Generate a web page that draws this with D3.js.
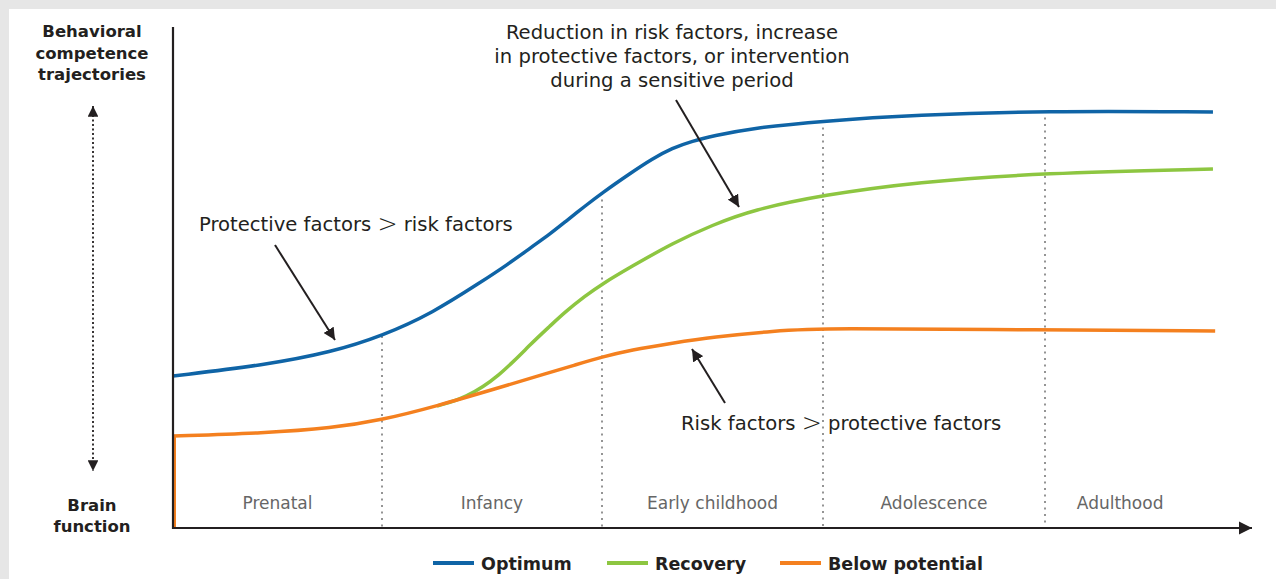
<!DOCTYPE html>
<html>
<head>
<meta charset="utf-8">
<script src="https://cdn.jsdelivr.net/npm/d3@7"></script>
<style>
    html, body { margin: 0; padding: 0; background: #e6e6e6; }
    svg { display: block; font-family: "DejaVu Sans", sans-serif; }
</style>
</head>
<body>
<svg id="chart" width="1276" height="579"></svg>
<script>
"use strict";

// developmental periods, one per unit of the x domain
var stages = ['Prenatal', 'Infancy', 'Early childhood', 'Adolescence', 'Adulthood'];
var stageLabelAt = [0.5, 1.5, 2.5, 3.5, 4.34];
var stageBreaks = [1, 2, 3, 4];

// [period, level 0-100]
var optimum = [
    [0, 30.4], [0.44, 32.6], [0.76, 35.2], [1, 38.4], [1.23, 43], [1.45, 49.2],
    [1.568, 52.6], [1.68, 56.2], [1.764, 58.8], [1.832, 61.2], [1.923, 64.4], [2, 67],
    [2.13, 71], [2.226, 73.8], [2.318, 76], [2.41, 77.4], [2.5, 78.4], [2.68, 80],
    [3, 81.4], [3.42, 82.6], [3.99, 83.4], [4.76, 83.2]
];
var recovery = [
    [1.25, 24.4], [1.38, 26], [1.53, 30.2], [1.68, 37], [1.764, 40.4], [1.832, 43.2],
    [1.923, 46.4], [2, 48.8], [2.13, 52.2], [2.32, 57], [2.5, 60.6], [2.68, 63.6],
    [3, 66.6], [3.42, 69.2], [3.99, 71], [4.76, 71.8]
];
var belowPotential = [
    [0, 18.4], [0.44, 19], [0.76, 20], [1, 21.6], [1.25, 24.4], [1.527, 28],
    [1.755, 31], [1.877, 32.6], [2, 34.2], [2.13, 35.6], [2.32, 37], [2.5, 38.2],
    [2.78, 39.4], [3, 40], [3.99, 39.6], [4.77, 39.4]
];
var belowStart = [[0, 0], [0, 18.4]];

var legendItems = ['Optimum', 'Recovery', 'Below potential'];
var colors = {'Optimum': '#0f64a6', 'Recovery': '#8dc641', 'Below potential': '#f4801f'};

var svg = d3.select('#chart');
var ink = '#231f20';

svg.append('rect').attr('x', 9).attr('y', 9).attr('width', 1267).attr('height', 570).attr('fill', '#fff');

var x = d3.scaleLinear().domain([0, 1, 2, 3, 4, 5]).range([173, 382, 602, 823, 1045, 1266]);
var y = d3.scaleLinear().domain([0, 100]).range([528, 28]);

var defs = svg.append('defs');
defs.append('marker')
        .attr('id', 'head')
        .attr('viewBox', '0 0 10 10')
        .attr('refX', 10).attr('refY', 5)
        .attr('markerWidth', 6).attr('markerHeight', 6)
        .attr('markerUnits', 'strokeWidth')
        .attr('orient', 'auto-start-reverse')
    .append('path')
        .attr('d', 'M0,0 L10,5 L0,10 z')
        .attr('fill', ink);

// stage separators, from the optimum curve down to the axis
function levelAt(series, t) {
    var i = d3.bisector(function(d) { return d[0]; }).left(series, t);
    var a = series[Math.max(0, i - 1)], b = series[Math.min(series.length - 1, i)];
    if (a[0] === b[0]) { return a[1]; }
    return a[1] + (b[1] - a[1]) * (t - a[0]) / (b[0] - a[0]);
}

svg.append('g').selectAll('line')
    .data(stageBreaks)
    .join('line')
        .attr('x1', function(d) { return x(d); })
        .attr('x2', function(d) { return x(d); })
        .attr('y1', function(d) { return y(levelAt(optimum, d)); })
        .attr('y2', y(0))
        .attr('stroke', '#7a7a7a')
        .attr('stroke-width', 1.6)
        .attr('stroke-dasharray', '2,4.5');

svg.append('g').selectAll('text')
    .data(stages)
    .join('text')
        .attr('x', function(d, i) { return x(stageLabelAt[i]); })
        .attr('y', 509)
        .attr('text-anchor', 'middle')
        .attr('fill', '#666')
        .attr('font-size', 17)
        .text(function(d) { return d; });

// curves
var line = d3.line()
    .x(function(d) { return x(d[0]); })
    .y(function(d) { return y(d[1]); })
    .curve(d3.curveBasis);

var curves = svg.append('g').attr('fill', 'none').attr('stroke-width', 3.5).attr('stroke-linecap', 'butt');
curves.append('path').attr('d', line(recovery)).attr('stroke', colors['Recovery']);
curves.append('path').attr('d', line(belowPotential)).attr('stroke', colors['Below potential']);
curves.append('path').attr('d', line(optimum)).attr('stroke', colors['Optimum']);
curves.append('path')
    .attr('d', d3.line().x(function(d) { return x(d[0]) + 1.5; }).y(function(d) { return y(d[1]); })(belowStart))
    .attr('stroke', colors['Below potential'])
    .attr('stroke-width', 3);

// axes
svg.append('line')
    .attr('x1', x(0)).attr('x2', x(0))
    .attr('y1', 27).attr('y2', y(0) + 1)
    .attr('stroke', ink).attr('stroke-width', 2.2);
svg.append('line')
    .attr('x1', x(0) - 1).attr('x2', 1252)
    .attr('y1', y(0)).attr('y2', y(0))
    .attr('stroke', ink).attr('stroke-width', 2.2)
    .attr('marker-end', 'url(#head)');

// vertical scale hint
svg.append('line')
    .attr('x1', 93).attr('x2', 93)
    .attr('y1', 106).attr('y2', 471)
    .attr('stroke', ink).attr('stroke-width', 1.8)
    .attr('stroke-dasharray', '2,2.5')
    .attr('marker-start', 'url(#head)')
    .attr('marker-end', 'url(#head)');

function label(lines, cx, y0, dy, size, weight, anchor) {
    var t = svg.append('text')
        .attr('text-anchor', anchor || 'middle')
        .attr('font-size', size)
        .attr('font-weight', weight)
        .attr('fill', ink);
    lines.forEach(function(s, i) {
        t.append('tspan').attr('x', cx).attr('y', y0 + i * dy).text(s);
    });
    return t;
}

label(['Behavioral', 'competence', 'trajectories'], 92, 37, 21.5, 16.5, 700);
label(['Brain', 'function'], 92, 511, 20.5, 16.5, 700);

label(['Reduction in risk factors, increase', 'in protective factors, or intervention', 'during a sensitive period'],
      672, 39, 24, 19.6, 400);

function factors(a, b, tx, ty) {
    var t = svg.append('text')
        .attr('x', tx).attr('y', ty)
        .attr('font-size', 19.6)
        .attr('fill', ink);
    t.append('tspan').text(a + ' ');
    t.append('tspan').attr('font-size', 24).attr('font-weight', 300).attr('dy', 1).text('>');
    t.append('tspan').attr('dy', -1).text(' ' + b);
}
factors('Protective factors', 'risk factors', 199, 231);
factors('Risk factors', 'protective factors', 681, 430);

// annotation arrows
var pointers = [
    [[275, 245], [335, 340]],
    [[676, 100], [739, 207]],
    [[725, 403], [692, 349]]
];
svg.append('g').selectAll('line')
    .data(pointers)
    .join('line')
        .attr('x1', function(d) { return d[0][0]; })
        .attr('y1', function(d) { return d[0][1]; })
        .attr('x2', function(d) { return d[1][0]; })
        .attr('y2', function(d) { return d[1][1]; })
        .attr('stroke', ink)
        .attr('stroke-width', 2)
        .attr('marker-end', 'url(#head)');

// legend
var legendX = [433, 607, 780];
var legend = svg.append('g').selectAll('g')
    .data(legendItems)
    .join('g')
        .attr('transform', function(d, i) { return 'translate(' + legendX[i] + ',563)'; });
legend.append('line')
    .attr('x1', 0).attr('x2', 41)
    .attr('stroke', function(d) { return colors[d]; })
    .attr('stroke-width', 4);
legend.append('text')
    .attr('x', 48).attr('y', 6.5)
    .attr('font-size', 17.5)
    .attr('font-weight', 700)
    .attr('fill', ink)
    .text(function(d) { return d; });
</script>
</body>
</html>
